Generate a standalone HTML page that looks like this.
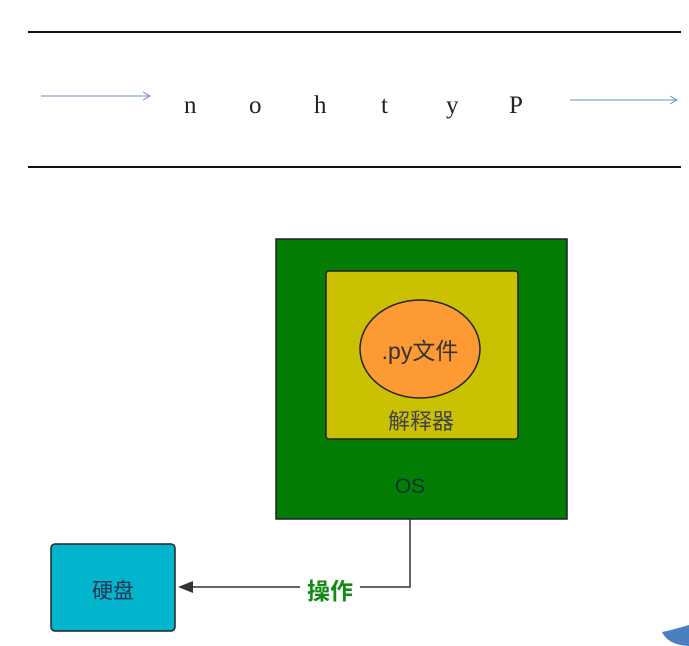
<!DOCTYPE html>
<html><head><meta charset="utf-8"><style>
body{margin:0;width:689px;height:646px;background:#fff;overflow:hidden;position:relative;font-family:"Liberation Sans","Noto Sans CJK SC",sans-serif}
.a{position:absolute}
</style></head><body>
<svg class="a" style="left:0;top:0" width="689" height="646">
<line x1="28" y1="32" x2="681" y2="32" stroke="#111" stroke-width="2"/>
<line x1="28" y1="167" x2="681" y2="167" stroke="#111" stroke-width="2"/>
<g stroke="#6a8fc6" stroke-width="1" fill="none">
<line x1="41" y1="96" x2="150" y2="96"/><polyline points="143,92 150,96 143,100"/>
<line x1="570" y1="100" x2="677" y2="100"/><polyline points="670,96 677,100 670,104"/>
</g>
<g font-family="Liberation Serif,serif" font-size="25" fill="#222">
<text x="184" y="113" transform="scale(1,1)">n</text><text x="249" y="113">o</text><text x="314" y="113">h</text><text x="381" y="113">t</text><text x="446" y="113">y</text><text x="509" y="113">P</text>
</g>
<rect x="276" y="239" width="291" height="280" fill="#047d05" stroke="#222" stroke-width="1.5"/>
<rect x="326" y="271" width="192" height="168" rx="3" fill="#cbc103" stroke="#222" stroke-width="1.5"/>
<ellipse cx="420" cy="349" rx="60" ry="49" fill="#fd9a33" stroke="#222" stroke-width="1.5"/>
<text x="420" y="359" text-anchor="middle" font-size="23" fill="#333">.py文件</text>
<text x="421" y="429" text-anchor="middle" font-size="22" fill="#444">解释器</text>
<text x="410" y="493" text-anchor="middle" font-size="21" fill="#033">OS</text>
<polyline points="410,519 410,587 190,587" fill="none" stroke="#333" stroke-width="1.5"/>
<polygon points="178,587 193,581 193,593" fill="#333"/>
<rect x="300" y="574" width="60" height="28" fill="#fff"/>
<text x="330" y="599" text-anchor="middle" font-size="23" font-weight="bold" fill="#138a13">操作</text>
<rect x="51" y="544" width="124" height="87" rx="4" fill="#00b5cc" stroke="#222" stroke-width="1.5"/>
<text x="113" y="598" text-anchor="middle" font-size="21" fill="#235">硬盘</text>
<path d="M689,625 Q672,630 662,632 Q668,645 689,646 Z" fill="#4a7fc0"/>
</svg>
</body></html>
